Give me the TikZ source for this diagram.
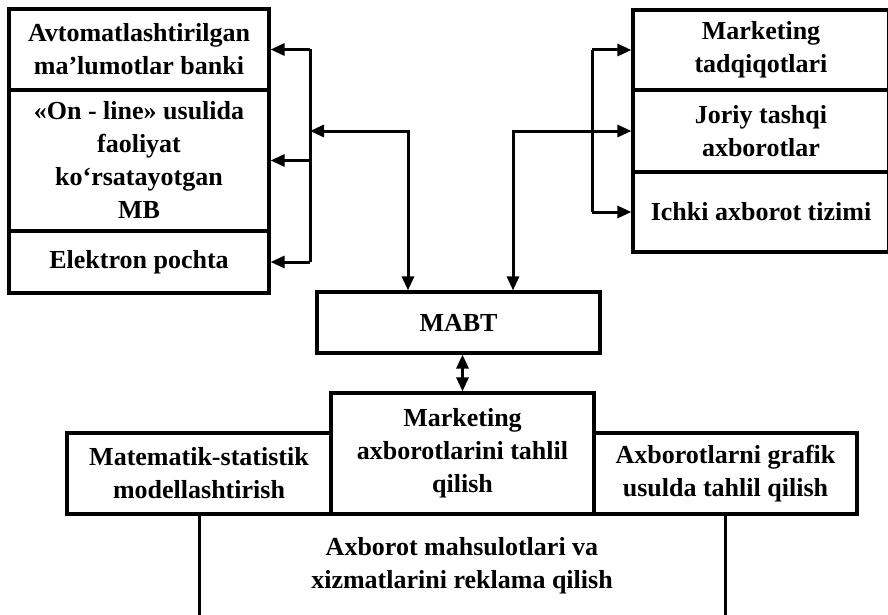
\documentclass[tikz,border=0pt]{standalone}
\usepackage{fontspec}
\setmainfont{Liberation Serif}
\usetikzlibrary{arrows.meta}
\begin{document}
\begin{tikzpicture}[x=1pt,y=-1pt,
  txt/.style={inner sep=0pt, align=center, font=\fontsize{26}{33}\selectfont\bfseries},
  box/.style={txt, draw, line width=3.2pt},
  conn/.style={line width=3pt},
  arr/.style={conn,-{Triangle[length=14pt,width=12pt]}},
  darr/.style={conn,{Triangle[length=14pt,width=12pt]}-{Triangle[length=14pt,width=12pt]}},
]
\useasboundingbox (0,0) rectangle (888,615);
\clip (0,0) rectangle (888,615);
% left group
\node[box, minimum width=260pt, minimum height=81pt] (lA) at (139,49.5) {Avtomatlashtirilgan\\ma’lumotlar banki};
\node[box, minimum width=260pt, minimum height=141pt] (lB) at (139,160.5) {«On - line» usulida\\faoliyat\\ko‘rsatayotgan\\MB};
\node[box, minimum width=260pt, minimum height=62pt] (lC) at (139,262) {Elektron pochta};
% right group
\node[box, minimum width=256pt, minimum height=80pt] (rA) at (761,50) {Marketing\\tadqiqotlari};
\node[box, minimum width=256pt, minimum height=82pt] (rB) at (761,131) {Joriy tashqi\\axborotlar};
\node[box, minimum width=256pt, minimum height=80pt] (rC) at (761,212) {Ichki axborot tizimi};
% MABT
\node[box, minimum width=283pt, minimum height=61pt] (mabt) at (458.5,322.5) {MABT};
% lower row
\node[box, minimum width=263pt, minimum height=121pt] (mA) at (462.5,453.5) {Marketing\\axborotlarini tahlil\\qilish};
\node[box, minimum width=264pt, minimum height=81pt] (mL) at (199,473.5) {Matematik-statistik\\modellashtirish};
\node[box, minimum width=263pt, minimum height=81pt] (mR) at (725.5,473.5) {Axborotlarni grafik\\usulda tahlil qilish};
\node[txt] (bot) at (462,566) {Axborot mahsulotlari va\\xizmatlarini reklama qilish};
% bottom open frame
\coordinate (bl) at (199,625);
\coordinate (br) at (725.5,625);
\draw[conn] (mL.south) -- (bl);
\draw[conn] (mR.south) -- (br);
% left bus
\coordinate (lbT) at (310,49.5);
\coordinate (lbM) at (310,160.5);
\coordinate (lbB) at (310,262);
\draw[conn] (lbT) -- (lbB);
\draw[arr] (lbT) -- (lA.east);
\draw[arr] (lbM) -- (lB.east);
\draw[arr] (lbB) -- (lC.east);
\coordinate (lh) at (310,131);
\coordinate (lj) at (408,131);
\draw[darr] (lh) -- (lj) -- (lj |- mabt.north);
% right bus
\coordinate (rbT) at (592,50);
\coordinate (rbB) at (592,212);
\draw[conn] (rbT) -- (rbB);
\draw[arr] (rbT) -- (rA.west);
\draw[arr] (rbB) -- (rC.west);
\coordinate (rj) at (513,131);
\draw[darr] (rj |- mabt.north) -- (rj) -- (rB.west);
% MABT to analysis
\draw[darr] (mabt.south -| mA.north) -- (mA.north);
\end{tikzpicture}
\end{document}
